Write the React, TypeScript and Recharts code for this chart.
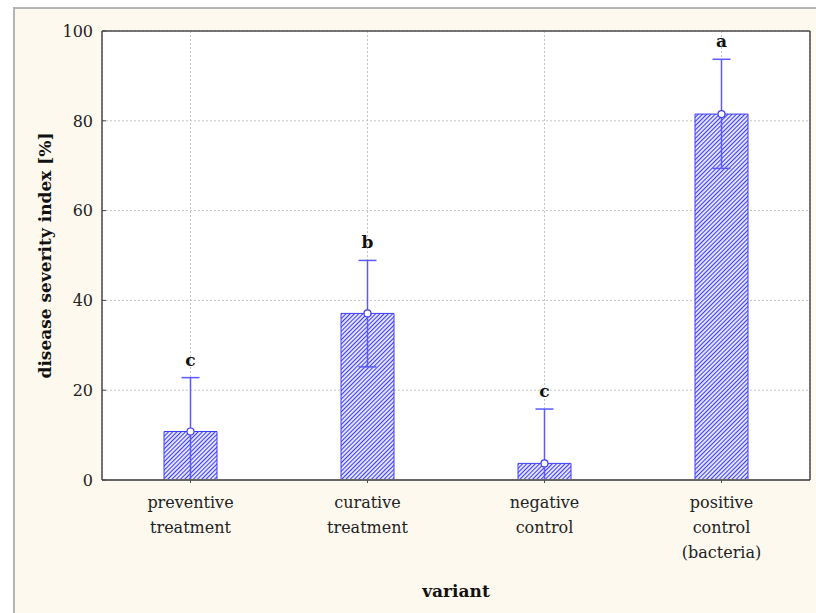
import React from "react";
import {
  ComposedChart, Bar, Line, XAxis, YAxis, CartesianGrid, ErrorBar, LabelList,
} from "recharts";

const categories = [
  "preventive treatment",
  "curative treatment",
  "negative control",
  "positive control (bacteria)",
];
const tickLines = [
  ["preventive", "treatment"],
  ["curative", "treatment"],
  ["negative", "control"],
  ["positive", "control", "(bacteria)"],
];
const means = [10.8, 37.1, 3.7, 81.5];
// visible whisker lengths (lower whiskers cut at the axis)
const errLow = [10.8, 11.9, 3.7, 12.1];
const errHigh = [12.0, 11.8, 12.1, 12.2];
const letters = ["c", "b", "c", "a"];
const yTicks = [0, 20, 40, 60, 80, 100];
const rightTicks = [14.29, 28.57, 42.86, 57.14, 71.43, 85.71];

const data = categories.map((cat, i) => ({
  cat,
  mean: means[i],
  err: [errLow[i], errHigh[i]],
  top: means[i] + errHigh[i],
  letter: letters[i],
}));

const FONT = "'DejaVu Serif', serif";
const BLUE = "#3c3cff";
const FRAME = "#4a4a4a";

function XTick(props: any) {
  const { x, y, index } = props;
  const lines = tickLines[index] || [];
  return (
    <text x={x} y={y} textAnchor="middle" fontFamily={FONT} fontSize={16} fill="#222">
      {lines.map((l, i) => (
        <tspan key={i} x={x} dy={25}>{l}</tspan>
      ))}
    </text>
  );
}

function YTick(props: any) {
  const { x, y, payload } = props;
  return (
    <g>
      <text x={x} y={y} dy="0.36em" textAnchor="end" fontFamily={FONT} fontSize={16} fill="#222">
        {payload.value}
      </text>
      <line x1={x + 9} x2={x + 13} y1={y} y2={y} stroke={FRAME} strokeWidth={1} />
    </g>
  );
}

function XTitle(props: any) {
  const vb = props.viewBox || {};
  return (
    <text x={vb.x + vb.width / 2} y={vb.y + 117} textAnchor="middle"
      fontFamily={FONT} fontSize={17} fontWeight="bold" fill="#111">
      variant
    </text>
  );
}

function YTitle(props: any) {
  const vb = props.viewBox || {};
  const cx = vb.x + 45;
  const cy = vb.y + vb.height / 2;
  return (
    <text x={cx} y={cy} textAnchor="middle" dominantBaseline="central"
      transform={`rotate(-90, ${cx}, ${cy})`}
      fontFamily={FONT} fontSize={17} fontWeight="bold" fill="#111">
      disease severity index [%]
    </text>
  );
}

export default function App() {
  return (
    <div style={{ position: "relative", width: 816, height: 613, background: "#fff", overflow: "hidden" }}>
      <style>{"body{margin:0}"}</style>
      <div style={{
        position: "absolute", left: 13, top: 7, width: 820, height: 620,
        background: "#fdf9ef", borderLeft: "2px solid #b4b4b4", borderTop: "2px solid #b4b4b4",
      }} />
      <div style={{ position: "absolute", left: 0, top: 0 }}>
        <ComposedChart width={816} height={613} data={data}
          margin={{ top: 31, right: 6, bottom: 0, left: 0 }}>
          <defs>
            <pattern id="hatch" patternUnits="userSpaceOnUse" width="3" height="3"
              patternTransform="rotate(45)">
              <rect width="3" height="3" fill="#fff" />
              <line x1="1.5" y1="0" x2="1.5" y2="3" stroke={BLUE} strokeWidth="1.3" />
            </pattern>
          </defs>
          <CartesianGrid fill="#fff" stroke="#c4c4c4" strokeDasharray="2 2" />
          <Bar dataKey="mean" fill="url(#hatch)" stroke={BLUE} strokeWidth={1}
            barSize={53} isAnimationActive={false}>
            <ErrorBar dataKey="err" width={9} stroke="#5a5aff" strokeWidth={1.5}
              isAnimationActive={false} />
          </Bar>
          <Line dataKey="mean" stroke="none" activeDot={false} isAnimationActive={false}
            dot={{ r: 3.5, fill: "#fff", stroke: BLUE, strokeWidth: 1.2 }} />
          <Line dataKey="top" stroke="none" dot={false} activeDot={false} isAnimationActive={false}>
            <LabelList dataKey="letter" position="top" offset={12}
              fontFamily={FONT} fontSize={17} fontWeight="bold" fill="#111" />
          </Line>
          <XAxis dataKey="cat" height={133} tick={<XTick />} interval={0}
            tickSize={3} tickMargin={0} tickLine={{ stroke: FRAME }}
            axisLine={{ stroke: "#666", strokeWidth: 2 }} label={<XTitle />} />
          <XAxis xAxisId="t" dataKey="cat" orientation="top" height={1} mirror
            tick={false} tickSize={3} tickLine={{ stroke: FRAME }}
            axisLine={{ stroke: FRAME, strokeWidth: 1.5 }} />
          <YAxis width={102} domain={[0, 100]} ticks={yTicks} allowDataOverflow
            tickLine={false} tickSize={0} tickMargin={9} tick={<YTick />}
            axisLine={{ stroke: FRAME, strokeWidth: 1.5 }} label={<YTitle />} />
          <YAxis yAxisId="r" orientation="right" width={1} domain={[0, 100]}
            ticks={rightTicks} tick={false} mirror tickSize={3}
            tickLine={{ stroke: FRAME }} axisLine={{ stroke: FRAME, strokeWidth: 1.5 }} />
        </ComposedChart>
      </div>
    </div>
  );
}
